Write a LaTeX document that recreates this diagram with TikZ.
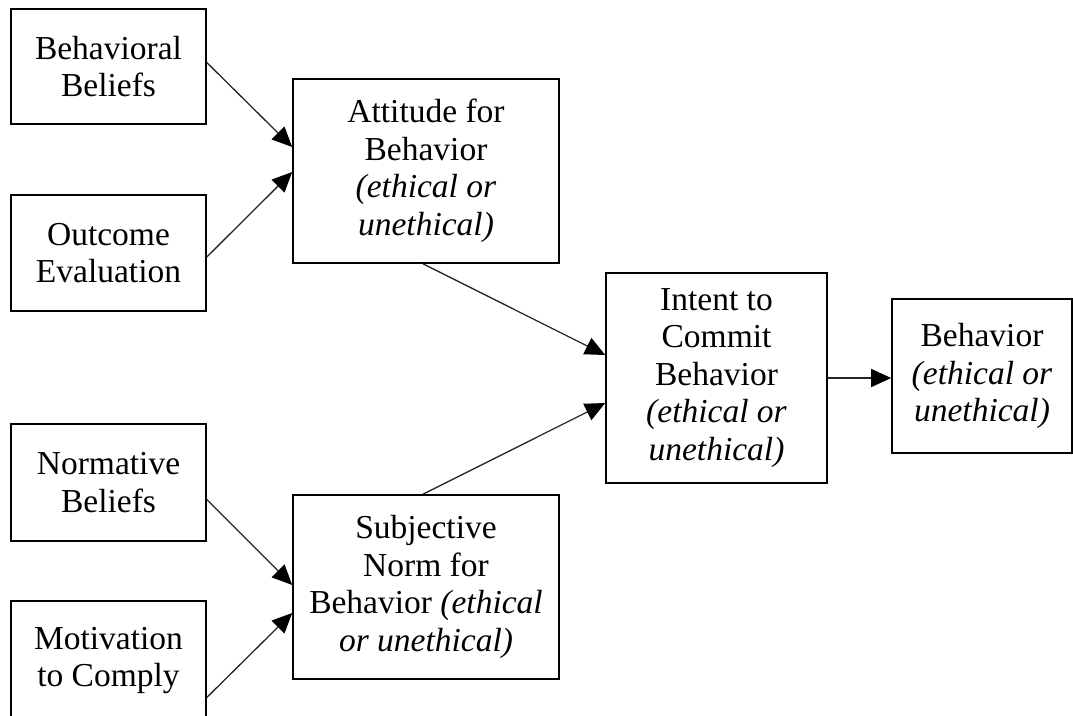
\documentclass[tikz,border=0pt]{standalone}
\usepackage{fontspec}
\setmainfont{Liberation Serif}
\usetikzlibrary{arrows.meta,calc}
\begin{document}
\begin{tikzpicture}[x=1pt,y=-1pt,
  box/.style={draw=black,line width=1.6pt,inner sep=0pt,align=center,
    font=\fontsize{33.5}{37.5}\selectfont},
  conn/.style={draw=black!85,line width=1.3pt,-{Triangle[length=20pt,width=18pt,color=black,fill=black]}}]
\clip (0,0) rectangle (1073,715);
\fill[white] (0,0) rectangle (1073,715);
\node[box,minimum width=195pt,minimum height=115pt] (bb) at (108.5,66.5) {Behavioral\\Beliefs};
\node[box,minimum width=195pt,minimum height=116pt] (oe) at (108.5,253) {Outcome\\Evaluation};
\node[box,minimum width=195pt,minimum height=117pt] (nb) at (108.5,482.5) {Normative\\Beliefs};
\node[box,minimum width=195pt,minimum height=119pt] (mc) at (108.5,660.5) {Motivation\\to Comply};
\node[box,minimum width=266pt,minimum height=184pt] (att) at (426,171) {Attitude for\\Behavior\\\textit{(ethical or}\\\textit{unethical)}};
\node[box,minimum width=266pt,minimum height=184pt] (sub) at (426,587) {Subjective\\Norm for\\Behavior \textit{(ethical}\\\textit{or unethical)}};
\node[box,minimum width=221pt,minimum height=210pt] (int) at (716.5,378) {Intent to\\Commit\\Behavior\\\textit{(ethical or}\\\textit{unethical)}};
\node[box,minimum width=180pt,minimum height=154pt] (beh) at (982,376) {Behavior\\\textit{(ethical or}\\\textit{unethical)}};
\draw[conn] ($(bb.east)+(0,-4)$) -- ($(att.west)+(0,-24)$);
\draw[conn] ($(oe.east)+(0,4)$) -- ($(att.west)+(0,1)$);
\draw[conn] ($(nb.east)+(0,17)$) -- ($(sub.west)+(0,-2)$);
\draw[conn] ($(mc.east)+(0,37)$) -- ($(sub.west)+(0,26)$);
\draw[conn] ($(att.south)+(-3,0)$) -- ($(int.west)+(0,-23)$);
\draw[conn] ($(sub.north)+(-3,0)$) -- ($(int.west)+(0,25)$);
\draw[conn] (int.east) -- (int.east -| beh.west);
\end{tikzpicture}
\end{document}
